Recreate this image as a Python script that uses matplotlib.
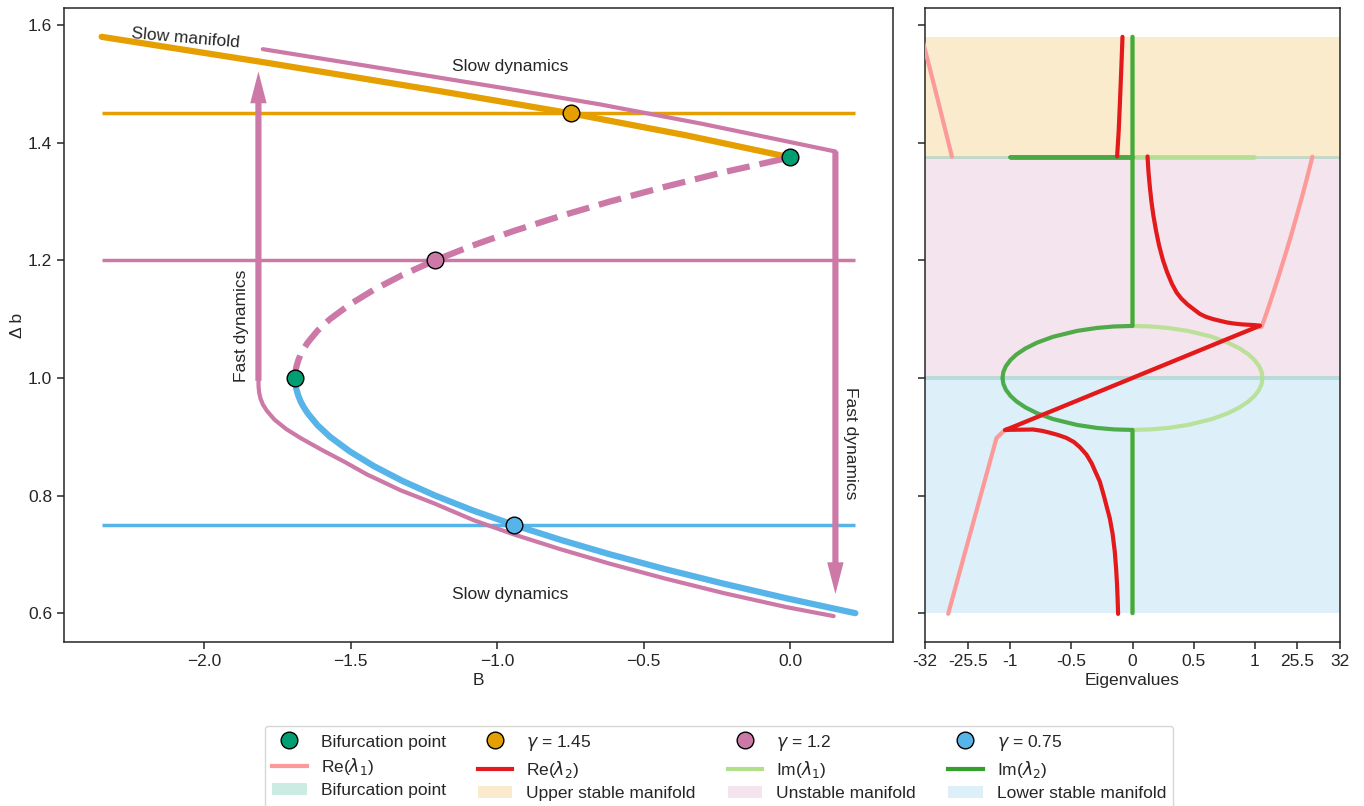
import numpy as np
import matplotlib
matplotlib.use("Agg")
import matplotlib.pyplot as plt
from matplotlib.lines import Line2D
from matplotlib.patches import Patch

plt.rcParams['font.family'] = ['Liberation Sans', 'DejaVu Sans']
plt.rcParams['font.size'] = 12.5
plt.rcParams['axes.edgecolor'] = '#262626'
plt.rcParams['axes.linewidth'] = 1.1
plt.rcParams['xtick.color'] = '#262626'
plt.rcParams['ytick.color'] = '#262626'
plt.rcParams['text.color'] = '#262626'
plt.rcParams['axes.labelcolor'] = '#262626'

nan = np.nan

# ---------------- colours ----------------
C_GREEN = '#009E73'
C_ORANGE = '#E69F00'
C_PINK = '#CC79A7'
C_BLUE = '#56B4E9'
C_RE1 = '#fb9a99'
C_RE2 = '#e31a1c'
C_IM1 = '#b2df8a'
C_IM2 = '#33a02c'

# ---------------- left panel data ----------------
B_range = [-2.35, 0.22]
gamma_values = [1.45, 1.2, 0.75]
gamma_B = [-0.75, -1.212, -0.943]
bif_B = [0.0, -1.69]
bif_db = [1.375, 1.0]

upper_B = [-2.35, -1.8, -1.2, -0.75, -0.35, 0.0]
upper_db = [1.580, 1.537, 1.488, 1.450, 1.412, 1.375]

middle_db = [1.0, 1.005, 1.01, 1.02, 1.03, 1.04, 1.05, 1.06, 1.08, 1.10, 1.125, 1.15, 1.175,
             1.20, 1.225, 1.25, 1.275, 1.30, 1.325, 1.35, 1.375]
middle_B = [-1.690, -1.6897, -1.689, -1.685, -1.679, -1.671, -1.660, -1.647, -1.614, -1.571,
            -1.503, -1.421, -1.324, -1.212, -1.085, -0.943, -0.786, -0.615, -0.428, -0.226, 0.0]

lower_db = [1.0, 0.995, 0.99, 0.98, 0.97, 0.96, 0.95, 0.94, 0.92, 0.90, 0.875, 0.85, 0.825,
            0.80, 0.775, 0.75, 0.725, 0.70, 0.675, 0.65, 0.625, 0.60]
lower_B = [-1.690, -1.6897, -1.689, -1.685, -1.679, -1.671, -1.660, -1.647, -1.614, -1.571,
           -1.503, -1.421, -1.324, -1.212, -1.085, -0.943, -0.786, -0.615, -0.428, -0.226,
           -0.010, 0.222]

traj_up_B = [-1.80, -1.4, -0.956, -0.648, -0.3, 0.0, 0.154]
traj_up_db = [1.559, 1.527, 1.491, 1.465, 1.432, 1.401, 1.385]

traj_low_B = [-1.815, -1.8145, -1.8125, -1.808, -1.800, -1.786, -1.760, -1.720, -1.672, -1.60,
              -1.52, -1.445, -1.33, -1.217, -1.08, -0.944, -0.786, -0.615, -0.428, -0.226,
              -0.010, 0.148]
traj_low_db = [1.000, 0.985, 0.975, 0.965, 0.955, 0.944, 0.929, 0.913, 0.898, 0.878,
               0.857, 0.836, 0.809, 0.787, 0.758, 0.734, 0.709, 0.684, 0.659, 0.634,
               0.610, 0.595]

arrow_up = (-1.815, 0.995, 1.521)     # B, start, tip
arrow_down = (0.154, 1.385, 0.6325)

# ---------------- right panel data ----------------
eig_ticks = [-32, -25.5, -1, -0.5, 0, 0.5, 1, 25.5, 32]
eig_ticklabels = ['-32', '-25.5', '-1', '-0.5', '0', '0.5', '1', '25.5', '32']

re1_db = [1.58, 1.475, 1.3761, nan,
          1.3761, 1.3368, 1.3026, 1.2769, 1.2427, 1.2085, 1.1744, 1.1402, 1.1145, 1.0974, 1.087,
          1.0851, 1.0, 0.9149, 0.9114, 0.898, 0.72, 0.599]
re1_val = [-32.5, -30.1, -27.9, nan,
           27.80, 26.91, 26.09, 25.29, 22.0, 18.54, 14.93, 11.22, 8.35, 6.32, 4.96,
           1.0, 0.0, -1.0, -4.15, -8.98, -25.5, -28.47]

re2_db = [1.58, 1.53, 1.4735, 1.42, 1.3766, nan,
          1.3766, 1.35, 1.325, 1.30, 1.275, 1.25, 1.225, 1.20, 1.18, 1.16, 1.145, 1.135, 1.125,
          1.117, 1.109, 1.104, 1.100, 1.097, 1.0945, 1.0925, 1.091, 1.0898, 1.0889,
          1.0851, 1.0, 0.9149, 0.9114,
          0.9118, 0.9123, 0.910, 0.907, 0.903, 0.898, 0.891, 0.882, 0.8696, 0.855, 0.84,
          0.8239, 0.80, 0.78, 0.7612, 0.735, 0.7043, 0.675, 0.65, 0.625, 0.5988]
re2_val = [-0.082, -0.091, -0.102, -0.113, -0.126, nan,
           0.123, 0.131, 0.142, 0.155, 0.172, 0.193, 0.218, 0.250, 0.283, 0.323, 0.362, 0.400,
           0.450, 0.500, 0.551, 0.600, 0.660, 0.720, 0.770, 0.830, 0.900, 1.0, 4.15,
           1.0, 0.0, -1.0, -4.15,
           -1.0, -0.814, -0.74, -0.68, -0.61, -0.541, -0.48, -0.43, -0.377, -0.335, -0.303,
           -0.268, -0.235, -0.21, -0.186, -0.163, -0.145, -0.134, -0.127, -0.122, -0.118]

im1_db = [1.58, 1.375, 1.375, 1.375, 1.0884,
          1.0875, 1.085, 1.08, 1.07, 1.06, 1.05, 1.04, 1.0304, 1.02, 1.01, 1.0,
          0.99, 0.98, 0.9696, 0.96, 0.95, 0.94, 0.93, 0.92, 0.915, 0.9125, 0.9116, 0.6]
im1_val = [0.0, 0.0, 1.0, 0.0, 0.0,
           0.151, 0.292, 0.453, 0.650, 0.782, 0.878, 0.950, 1.0, 3.62, 5.07, 5.55,
           5.07, 3.62, 1.0, 0.950, 0.878, 0.782, 0.650, 0.453, 0.292, 0.151, 0.0, 0.0]
# Im(lambda_2) is the complex conjugate partner of Im(lambda_1)
im2_db = list(im1_db)
im2_val = [-v for v in im1_val]

bands = [(1.375, 1.58, C_ORANGE), (1.0, 1.375, C_PINK), (0.6, 1.0, C_BLUE)]

# ---------------- figure ----------------
fig = plt.figure(figsize=(13.64, 8.06), dpi=100)
ax1 = fig.add_axes([64 / 1364, 164 / 806, 829 / 1364, 634 / 806])
ax2 = fig.add_axes([925 / 1364, 164 / 806, 415 / 1364, 634 / 806], sharey=ax1)

# left panel
ax1.hlines(gamma_values, B_range[0], B_range[1], colors=[C_ORANGE, C_PINK, C_BLUE], lw=2.5, zorder=2)
ax1.plot(upper_B, upper_db, color=C_ORANGE, lw=4.5, solid_capstyle='round', zorder=3)
ax1.plot(middle_B, middle_db, color=C_PINK, lw=4.5, ls='--', zorder=3)
ax1.plot(lower_B, lower_db, color=C_BLUE, lw=4.5, solid_capstyle='round', zorder=3.2)
ax1.plot(traj_up_B, traj_up_db, color=C_PINK, lw=3, solid_capstyle='round', zorder=3)
ax1.plot(traj_low_B, traj_low_db, color=C_PINK, lw=3, solid_capstyle='round', zorder=3)
for (bx, y0, y1) in (arrow_up, arrow_down):
    ax1.arrow(bx, y0, 0, y1 - y0, width=0.021, head_width=0.056, head_length=0.054,
              length_includes_head=True, color=C_PINK, lw=0, zorder=4)

ax1.plot(bif_B, bif_db, 'o', ms=12, color=C_GREEN, mec='black', mew=1, zorder=5)
for gb, gv, c in zip(gamma_B, gamma_values, [C_ORANGE, C_PINK, C_BLUE]):
    ax1.plot([gb], [gv], 'o', ms=12, color=c, mec='black', mew=1, zorder=5)

ax1.text(-2.063, 1.577, 'Slow manifold', rotation=-5, ha='center', va='center', rotation_mode='anchor')
ax1.text(-0.956, 1.530, 'Slow dynamics', ha='center', va='center')
ax1.text(-0.956, 0.631, 'Slow dynamics', ha='center', va='center')
ax1.text(-1.874, 1.089, 'Fast dynamics', rotation=90, ha='center', va='center')
ax1.text(0.205, 0.889, 'Fast dynamics', rotation=270, ha='center', va='center')

ax1.set_xlim(-2.4785, 0.3505)
ax1.set_ylim(0.551, 1.629)
ax1.set_xticks([-2.0, -1.5, -1.0, -0.5, 0.0])
ax1.set_yticks([0.6, 0.8, 1.0, 1.2, 1.4, 1.6])
ax1.set_xlabel('B', labelpad=3)
ax1.set_ylabel('Δ b', labelpad=2)

# right panel: piecewise-linear eigenvalue scale through the tick knots
kv = np.array(eig_ticks, dtype=float)
kp = np.array([-1.7, -1.35, -1.0, -0.5, 0.0, 0.5, 1.0, 1.35, 1.7])


def _pw(x, xs, ys):
    x = np.asarray(x, dtype=float)
    out = np.interp(x, xs, ys)
    lo = x < xs[0]
    hi = x > xs[-1]
    out = np.where(lo, ys[0] + (x - xs[0]) * (ys[1] - ys[0]) / (xs[1] - xs[0]), out)
    out = np.where(hi, ys[-1] + (x - xs[-1]) * (ys[-1] - ys[-2]) / (xs[-1] - xs[-2]), out)
    out = np.where(np.isnan(x), np.nan, out)
    return out


ax2.set_xscale('function', functions=(lambda v: _pw(v, kv, kp), lambda p: _pw(p, kp, kv)))

for lo_, hi_, c in bands:
    ax2.axhspan(lo_, hi_, color=c, alpha=0.2, lw=0, zorder=0)
for b in bif_db:
    ax2.axhspan(b - 0.003, b + 0.003, color=C_GREEN, alpha=0.2, lw=0, zorder=0.5)

ax2.plot(im1_val, im1_db, color=C_IM1, lw=3, alpha=0.85, solid_capstyle='round', zorder=2)
ax2.plot(im2_val, im2_db, color=C_IM2, lw=3, alpha=0.85, solid_capstyle='round', zorder=2.1)
ax2.plot(re1_val, re1_db, color=C_RE1, lw=3, solid_capstyle='round', zorder=3)
ax2.plot(re2_val, re2_db, color=C_RE2, lw=3, solid_capstyle='round', zorder=3.1)

ax2.set_xlim(-32, 32)
ax2.set_xticks(eig_ticks)
ax2.set_xticklabels(eig_ticklabels)
ax2.minorticks_off()
ax2.tick_params(axis='y', labelleft=False)
ax2.set_xlabel('Eigenvalues', labelpad=3)

for ax in (ax1, ax2):
    ax.tick_params(direction='out', length=5, width=1.1)

# legend (column-major order for 4 columns)
h_bif = Line2D([], [], ls='none', marker='o', ms=12, color=C_GREEN, mec='black', mew=1)
h_g1 = Line2D([], [], ls='none', marker='o', ms=12, color=C_ORANGE, mec='black', mew=1)
h_g2 = Line2D([], [], ls='none', marker='o', ms=12, color=C_PINK, mec='black', mew=1)
h_g3 = Line2D([], [], ls='none', marker='o', ms=12, color=C_BLUE, mec='black', mew=1)
h_re1 = Line2D([], [], color=C_RE1, lw=3)
h_re2 = Line2D([], [], color=C_RE2, lw=3)
h_im1 = Line2D([], [], color=C_IM1, lw=3)
h_im2 = Line2D([], [], color=C_IM2, lw=3)
p_bif = Patch(facecolor=C_GREEN, alpha=0.2)
p_up = Patch(facecolor=C_ORANGE, alpha=0.2)
p_un = Patch(facecolor=C_PINK, alpha=0.2)
p_lo = Patch(facecolor=C_BLUE, alpha=0.2)

handles = [h_bif, h_re1, p_bif, h_g1, h_re2, p_up, h_g2, h_im1, p_un, h_g3, h_im2, p_lo]
labels = ['Bifurcation point', r'Re($\lambda_1$)', 'Bifurcation point',
          r'$\gamma$ = 1.45', r'Re($\lambda_2$)', 'Upper stable manifold',
          r'$\gamma$ = 1.2', r'Im($\lambda_1$)', 'Unstable manifold',
          r'$\gamma$ = 0.75', r'Im($\lambda_2$)', 'Lower stable manifold']
fig.legend(handles, labels, ncol=4, loc='lower center', bbox_to_anchor=(719 / 1364, -0.007),
           frameon=True, edgecolor='#cccccc', fancybox=True, fontsize=12.5,
           handlelength=2.0, columnspacing=1.85, labelspacing=0.36, borderaxespad=0.2)

fig.savefig('out.png', dpi=100)
